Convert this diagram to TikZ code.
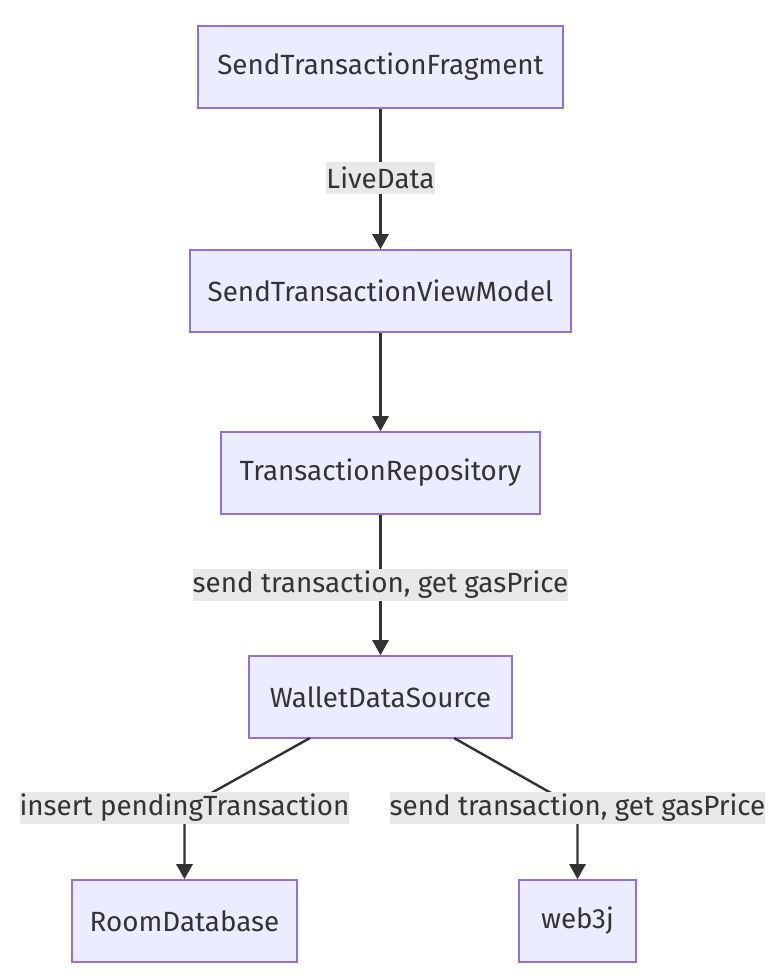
\documentclass[tikz,border=0pt]{standalone}
\usepackage{fontspec}
\setmainfont{Fira Sans}
\usetikzlibrary{arrows.meta}
\definecolor{nodefill}{HTML}{ECECFF}
\definecolor{nodeline}{HTML}{9370DB}
\definecolor{txt}{HTML}{333333}
\definecolor{lblbg}{HTML}{E8E8E8}
\tikzset{
  box/.style={draw=nodeline, fill=nodefill, line width=1.6pt, minimum height=82pt, inner sep=0pt, text=txt, font=\fontsize{27.8}{32}\selectfont},
  lbl/.style={fill=lblbg, text=txt, inner sep=0pt, minimum height=32pt, font=\fontsize{27.8}{32}\selectfont},
  edge/.style={draw=txt, line width=2.4pt, -{Triangle[length=15pt,width=16pt]}}
}
\begin{document}
\begin{tikzpicture}[x=1pt,y=-1pt]
\useasboundingbox[fill=white] (0,0) rectangle (782,980);
\node[box, minimum width=365pt] (F) at (380.5,67) {SendTransactionFragment};
\node[box, minimum width=381pt] (VM) at (380.5,291) {SendTransactionViewModel};
\node[box, minimum width=319pt] (TR) at (380.5,473) {TransactionRepository};
\node[box, minimum width=263pt] (WDS) at (380.5,697) {WalletDataSource};
\node[box, minimum width=225pt] (RD) at (184.5,921) {RoomDatabase};
\node[box, minimum width=117pt] (W3) at (577.5,921) {web3j};
\coordinate (wdsL) at (310,738);
\coordinate (wdsR) at (454,738);
\coordinate (jL) at (184.5,808);
\coordinate (jR) at (577.5,808);
\draw[edge] (F) -- (VM);
\draw[edge] (VM) -- (TR);
\draw[edge] (TR) -- (WDS);
\draw[edge] (wdsL) -- (jL) -- (RD);
\draw[edge] (wdsR) -- (jR) -- (W3);
\node[lbl] (l1) at (380.5,178) {LiveData};
\node[lbl] (l2) at (380.5,585) {send transaction, get gasPrice};
\node[lbl] (l3) at (jL) {insert pendingTransaction};
\node[lbl] (l4) at (jR) {send transaction, get gasPrice};
\end{tikzpicture}
\end{document}
